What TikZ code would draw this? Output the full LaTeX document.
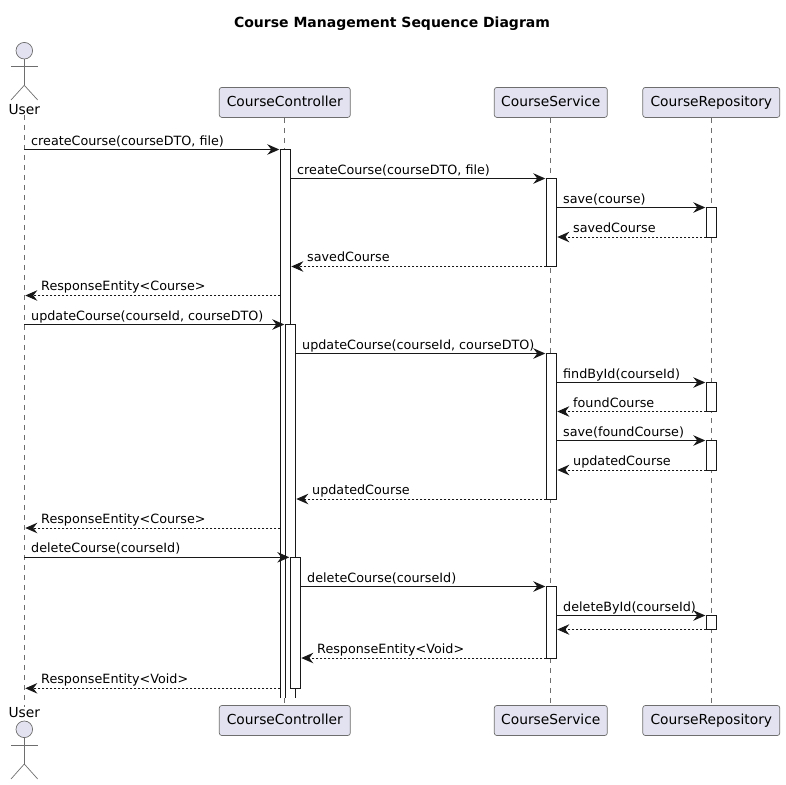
\documentclass[tikz,border=0pt]{standalone}
\usepackage{fontspec}
\setmainfont{DejaVu Sans}
\usetikzlibrary{arrows.meta}

\definecolor{umlline}{HTML}{181818}
\definecolor{umlgrey}{HTML}{6E6E6E}
\definecolor{umlfill}{HTML}{E2E2F0}

\tikzset{
  head/.style={draw=umlgrey,line width=0.7pt,fill=umlfill,rounded corners=2.5pt,minimum height=30pt,inner sep=0pt,text height=10.6pt,text depth=2.2pt,font=\fontsize{13.8}{16}\selectfont},
  actorname/.style={inner sep=0pt,font=\fontsize{13.8}{16}\selectfont},
  lifeline/.style={draw=umlgrey,line width=0.7pt,dash pattern=on 5pt off 5pt},
  actorline/.style={draw=umlgrey,line width=0.7pt},
  bar/.style={draw=umlline,line width=1pt,fill=white,minimum width=10pt,inner sep=0pt,outer sep=0pt,anchor=north},
  openbar/.style={fill=white,minimum width=10pt,inner sep=0pt,outer sep=0pt,anchor=north},
  barline/.style={draw=umlline,line width=1pt},
  call/.style={draw=umlline,line width=1pt,shorten >=1pt,-{Stealth[length=12pt,width=10.5pt,inset=4pt]}},
  reply/.style={call,dash pattern=on 2pt off 2pt},
  msg/.style={inner sep=0pt,anchor=base west,font=\fontsize{12.75}{15}\selectfont}
}

\begin{document}
\begin{tikzpicture}[x=1pt,y=-1pt]
\useasboundingbox (0,0) rectangle (785,785);

\node[font=\bfseries\fontsize{14}{16}\selectfont] (title) at (392,23.5) {Course Management Sequence Diagram};

% participants
\node[head,minimum width=131pt] (ctrlTop) at (284.8,102.4) {CourseController};
\node[head,minimum width=113pt] (svcTop) at (550.8,102.4) {CourseService};
\node[head,minimum width=137pt] (repoTop) at (711.3,102.4) {CourseRepository};
\node[head,minimum width=131pt] (ctrlBot) at (284.8,720.5) {CourseController};
\node[head,minimum width=113pt] (svcBot) at (550.8,720.5) {CourseService};
\node[head,minimum width=137pt] (repoBot) at (711.3,720.5) {CourseRepository};
\node[actorname] (userTop) at (24.3,109.5) {User};
\node[actorname] (userBot) at (24.3,712.5) {User};

% actors
\draw[actorline,fill=umlfill] (24.3,50.7) circle (8.3);
\draw[actorline] (24.3,59) -- (24.3,85.3);
\draw[actorline] (11,66) -- (37.7,66);
\draw[actorline] (11,100) -- (24.3,85.3) -- (37.7,100);
\draw[actorline,fill=umlfill] (24.3,729.3) circle (8.3);
\draw[actorline] (24.3,737.6) -- (24.3,764);
\draw[actorline] (11,745) -- (37.7,745);
\draw[actorline] (11,779) -- (24.3,764) -- (37.7,779);

% lifelines
\draw[lifeline] (userTop.south) -- (userBot.north);
\draw[lifeline] (ctrlTop.south) -- (ctrlBot.north);
\draw[lifeline] (svcTop.south) -- (svcBot.north);
\draw[lifeline] (repoTop.south) -- (repoBot.north);

% activations
\node[openbar,minimum height=548.5pt] (ctrlBarA) at (285.3,149.5) {};
\draw[barline] (ctrlBarA.south west) -- (ctrlBarA.north west) -- (ctrlBarA.north east) -- (ctrlBarA.south east);
\node[openbar,minimum height=373.5pt] (ctrlBarB) at (290.3,324.5) {};
\draw[barline] (ctrlBarB.south west) -- (ctrlBarB.north west) -- (ctrlBarB.north east) -- (ctrlBarB.south east);
\node[bar,minimum height=131pt] (ctrlBarC) at (295.3,557.3) {};
\node[bar,minimum height=88pt] (svcBarA) at (551.3,178.5) {};
\node[bar,minimum height=145.5pt] (svcBarB) at (551.3,353.5) {};
\node[bar,minimum height=71.5pt] (svcBarC) at (551.3,586.5) {};
\node[bar,minimum height=29.5pt] (repoBarA) at (711.3,207.5) {};
\node[bar,minimum height=29pt] (repoBarB) at (711.3,382.5) {};
\node[bar,minimum height=29.5pt] (repoBarC) at (711.3,440.5) {};
\node[bar,minimum height=14pt] (repoBarD) at (711.3,615.5) {};

% free ends on the user's lifeline
\coordinate (userCreate) at (24.3,149.5);
\coordinate (userCreated) at (24.3,295.5);
\coordinate (userUpdate) at (24.3,324.5);
\coordinate (userUpdated) at (24.3,528);
\coordinate (userDelete) at (24.3,557.3);
\coordinate (userDeleted) at (24.3,688.3);

% createCourse
\draw[call] (userCreate) -- (ctrlBarA.north west);
\node[msg] (msgA) at (31,145) {createCourse(courseDTO, file)};
\draw[call] (ctrlBarA.east |- svcBarA.north) -- (svcBarA.north west);
\node[msg] (msgB) at (297,174) {createCourse(courseDTO, file)};
\draw[call] (svcBarA.east |- repoBarA.north) -- (repoBarA.north west);
\node[msg] (msgC) at (563,203) {save(course)};
\draw[reply] (repoBarA.south west) -- (svcBarA.east |- repoBarA.south);
\node[msg] (msgD) at (573,232.5) {savedCourse};
\draw[reply] (svcBarA.south west) -- (ctrlBarA.east |- svcBarA.south);
\node[msg] (msgE) at (307,261.5) {savedCourse};
\draw[reply] (ctrlBarA.west |- userCreated) -- (userCreated);
\node[msg] (msgF) at (41,290.5) {ResponseEntity<Course>};

% updateCourse
\draw[call] (userUpdate) -- (ctrlBarB.north west);
\node[msg] (msgG) at (31,320) {updateCourse(courseId, courseDTO)};
\draw[call] (ctrlBarB.east |- svcBarB.north) -- (svcBarB.north west);
\node[msg] (msgH) at (302,349) {updateCourse(courseId, courseDTO)};
\draw[call] (svcBarB.east |- repoBarB.north) -- (repoBarB.north west);
\node[msg] (msgI) at (563,378) {findById(courseId)};
\draw[reply] (repoBarB.south west) -- (svcBarB.east |- repoBarB.south);
\node[msg] (msgJ) at (573,407) {foundCourse};
\draw[call] (svcBarB.east |- repoBarC.north) -- (repoBarC.north west);
\node[msg] (msgK) at (563,436) {save(foundCourse)};
\draw[reply] (repoBarC.south west) -- (svcBarB.east |- repoBarC.south);
\node[msg] (msgL) at (573,465) {updatedCourse};
\draw[reply] (svcBarB.south west) -- (ctrlBarB.east |- svcBarB.south);
\node[msg] (msgM) at (312,494) {updatedCourse};
\draw[reply] (ctrlBarA.west |- userUpdated) -- (userUpdated);
\node[msg] (msgN) at (41,523) {ResponseEntity<Course>};

% deleteCourse
\draw[call] (userDelete) -- (ctrlBarC.north west);
\node[msg] (msgO) at (31,552.5) {deleteCourse(courseId)};
\draw[call] (ctrlBarC.east |- svcBarC.north) -- (svcBarC.north west);
\node[msg] (msgP) at (307,582) {deleteCourse(courseId)};
\draw[call] (svcBarC.east |- repoBarD.north) -- (repoBarD.north west);
\node[msg] (msgQ) at (563,611) {deleteById(courseId)};
\draw[reply] (repoBarD.south west) -- (svcBarC.east |- repoBarD.south);
\draw[reply] (svcBarC.south west) -- (ctrlBarC.east |- svcBarC.south);
\node[msg] (msgR) at (317,653.5) {ResponseEntity<Void>};
\draw[reply] (ctrlBarA.west |- userDeleted) -- (userDeleted);
\node[msg] (msgS) at (41,683.5) {ResponseEntity<Void>};
\end{tikzpicture}
\end{document}
